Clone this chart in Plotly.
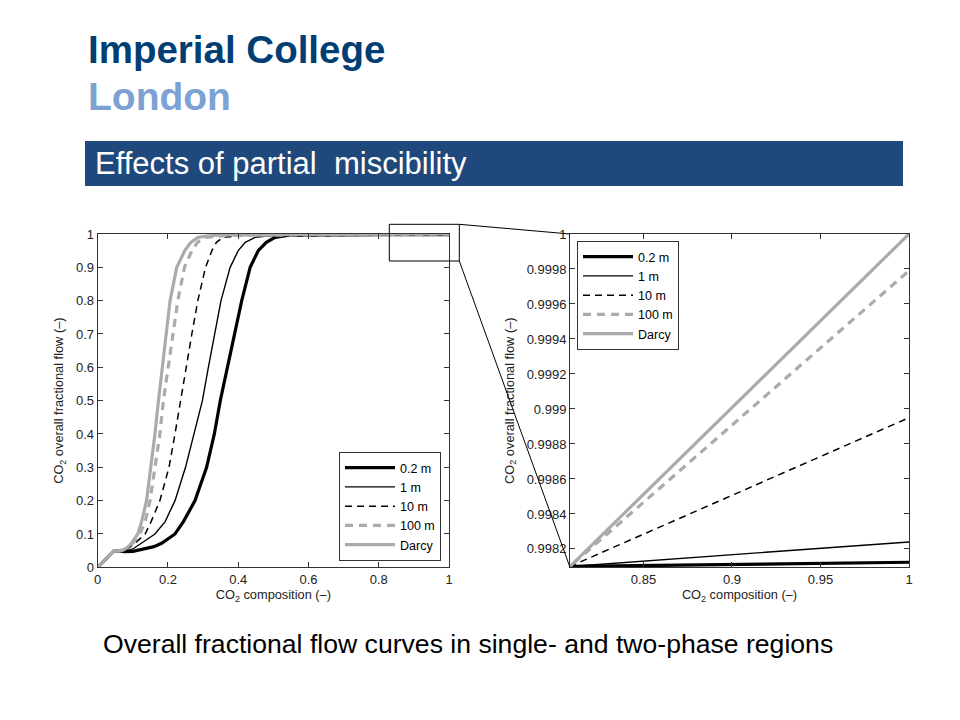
import plotly.graph_objects as go

# ---------------- data ----------------
series_names = ["0.2 m", "1 m", "10 m", "100 m", "Darcy"]

x_02 = [0, 0.02, 0.045, 0.06, 0.075, 0.1, 0.135, 0.16, 0.182, 0.2, 0.22, 0.244, 0.277, 0.31, 0.332, 0.349,
        0.37, 0.391, 0.41, 0.434, 0.457, 0.48, 0.505, 0.54, 0.7, 0.8085, 1.0]
y_02 = [0, 0.021, 0.048, 0.05, 0.047, 0.048, 0.055, 0.062, 0.072, 0.084, 0.1, 0.137, 0.2, 0.3, 0.4, 0.5,
        0.6, 0.7, 0.8, 0.9, 0.95, 0.975, 0.99, 0.996, 0.998, 0.9981, 0.998124]

x_1 = [0, 0.02, 0.045, 0.06, 0.075, 0.1, 0.125, 0.145, 0.163, 0.192, 0.22, 0.25, 0.275, 0.298, 0.315,
       0.332, 0.351, 0.377, 0.40, 0.42, 0.448, 0.505, 0.65, 0.8085, 1.0]
y_1 = [0, 0.021, 0.048, 0.05, 0.047, 0.055, 0.072, 0.086, 0.1, 0.137, 0.2, 0.3, 0.4, 0.5, 0.6,
       0.7, 0.8, 0.9, 0.95, 0.975, 0.99, 0.996, 0.9979, 0.9981, 0.99824]

x_10 = [0, 0.02, 0.045, 0.06, 0.075, 0.087, 0.106, 0.135, 0.152, 0.177, 0.203, 0.22, 0.236, 0.25, 0.268,
        0.285, 0.307, 0.325, 0.338, 0.357, 0.42, 0.6, 0.8085, 1.0]
y_10 = [0, 0.021, 0.048, 0.05, 0.048, 0.057, 0.072, 0.1, 0.137, 0.2, 0.3, 0.4, 0.5, 0.6, 0.7,
        0.8, 0.9, 0.95, 0.975, 0.99, 0.996, 0.9978, 0.9981, 0.99895]

x_100 = [0, 0.02, 0.045, 0.06, 0.072, 0.086, 0.101, 0.12, 0.135, 0.149, 0.163, 0.177, 0.187, 0.201, 0.213,
         0.228, 0.247, 0.268, 0.284, 0.305, 0.37, 0.55, 0.8085, 1.0]
y_100 = [0, 0.021, 0.048, 0.05, 0.052, 0.06, 0.073, 0.1, 0.137, 0.2, 0.3, 0.4, 0.5, 0.6, 0.7,
         0.8, 0.9, 0.95, 0.975, 0.99, 0.996, 0.9978, 0.9981, 0.99979]

x_darcy = [0, 0.02, 0.045, 0.06, 0.073, 0.085, 0.097, 0.114, 0.125, 0.139, 0.152, 0.163, 0.173, 0.184,
           0.193, 0.206, 0.225, 0.248, 0.265, 0.286, 0.31, 0.353, 0.5, 0.8085, 1.0]
y_darcy = [0, 0.021, 0.048, 0.05, 0.052, 0.06, 0.073, 0.1, 0.137, 0.2, 0.3, 0.4, 0.5, 0.6,
           0.7, 0.8, 0.9, 0.95, 0.975, 0.99, 0.994, 0.997, 0.9978, 0.9981, 1.0]

series_x = [x_02, x_1, x_10, x_100, x_darcy]
series_y = [y_02, y_1, y_10, y_100, y_darcy]

left_x_ticks = [0, 0.2, 0.4, 0.6, 0.8, 1]
left_y_ticks = [0, 0.1, 0.2, 0.3, 0.4, 0.5, 0.6, 0.7, 0.8, 0.9, 1]
right_x_ticks = [0.85, 0.9, 0.95, 1]
right_x_labels = ["0.85", "0.9", "0.95", "1"]
right_y_ticks = [0.9982, 0.9984, 0.9986, 0.9988, 0.999, 0.9992, 0.9994, 0.9996, 0.9998, 1.0]
right_y_labels = ["0.9982", "0.9984", "0.9986", "0.9988", "0.999", "0.9992", "0.9994", "0.9996", "0.9998", "1"]

# ---------------- styles ----------------
GREY = "#ababab"
styles = [
    dict(color="black", width=3.2, dash="solid"),
    dict(color="black", width=1.4, dash="solid"),
    dict(color="black", width=1.5, dash="7px,5px"),
    dict(color=GREY, width=3.2, dash="8px,6px"),
    dict(color=GREY, width=3.2, dash="solid"),
]

W, H = 960, 720
def px(xp):
    return xp / W
def py(yp):
    return 1 - yp / H

FONT = "Liberation Sans, Arial"
fig = go.Figure()
for name, xs, ys, st in zip(series_names, series_x, series_y, styles):
    fig.add_trace(go.Scatter(x=xs, y=ys, mode="lines", name=name, line=st,
                             xaxis="x", yaxis="y", legend="legend"))
for name, xs, ys, st in zip(series_names, series_x, series_y, styles):
    fig.add_trace(go.Scatter(x=xs, y=ys, mode="lines", name=name, line=st,
                             xaxis="x2", yaxis="y2", legend="legend2"))

axis_common = dict(showgrid=False, zeroline=False, showline=True, linecolor="#333333", linewidth=1,
                   mirror="ticks", ticks="inside", ticklen=5, tickcolor="#333333", automargin=False,
                   tickfont=dict(family=FONT, size=13, color="#222222"))
title_font = dict(family=FONT, size=12.8, color="#222222")
legend_common = dict(bgcolor="white", bordercolor="#333333", borderwidth=1, tracegroupgap=0, itemwidth=50,
                     font=dict(family=FONT, size=12.5, color="black"))

fig.update_layout(
    template="none",
    width=W, height=H, margin=dict(l=0, r=0, t=0, b=0, pad=0, autoexpand=False),
    paper_bgcolor="white", plot_bgcolor="white", showlegend=True,
    xaxis=dict(domain=[px(97.7), px(449)], range=[0, 1], tickvals=left_x_ticks,
               title=dict(text="CO<sub>2</sub> composition (–)", font=title_font, standoff=4),
               anchor="y", **axis_common),
    yaxis=dict(domain=[py(567.3), py(234)], range=[0, 1], tickvals=left_y_ticks,
               title=dict(text="CO<sub>2</sub> overall fractional flow (–)", font=title_font, standoff=9),
               anchor="x", **axis_common),
    xaxis2=dict(domain=[px(570), px(909)], range=[0.8085, 1], tickvals=right_x_ticks, ticktext=right_x_labels,
                title=dict(text="CO<sub>2</sub> composition (–)", font=title_font, standoff=4),
                anchor="y2", **axis_common),
    yaxis2=dict(domain=[py(567.3), py(234)], range=[0.998095, 1], tickvals=right_y_ticks, ticktext=right_y_labels,
                title=dict(text="CO<sub>2</sub> overall fractional flow (–)", font=title_font, standoff=9),
                anchor="x2", **axis_common),
    legend=dict(x=px(339), y=py(561), xanchor="left", yanchor="bottom", **legend_common),
    legend2=dict(x=px(577), y=py(241), xanchor="left", yanchor="top", **legend_common),
)

# zoom box and connector lines
box_l, box_r, box_t, box_b = 389.3, 459.3, 224.3, 261.0
fig.add_shape(type="rect", xref="paper", yref="paper", x0=px(box_l), x1=px(box_r), y0=py(box_b), y1=py(box_t),
              line=dict(color="black", width=1))
fig.add_shape(type="line", xref="paper", yref="paper", x0=px(box_r), y0=py(box_t), x1=px(570), y1=py(234),
              line=dict(color="black", width=1))
fig.add_shape(type="line", xref="paper", yref="paper", x0=px(box_r), y0=py(box_b), x1=px(570), y1=py(567.3),
              line=dict(color="black", width=1))

# header
fig.add_annotation(text="<b>Imperial College</b>", x=px(86), y=py(50), xref="paper", yref="paper",
                   xanchor="left", yanchor="middle", showarrow=False,
                   font=dict(family=FONT, size=38.5, color="#003E74"))
fig.add_annotation(text="<b>London</b>", x=px(86), y=py(97), xref="paper", yref="paper",
                   xanchor="left", yanchor="middle", showarrow=False,
                   font=dict(family=FONT, size=39, color="#7BA2D3"))
fig.add_shape(type="rect", xref="paper", yref="paper", x0=px(85), x1=px(903), y0=py(186), y1=py(141),
              line=dict(width=0), fillcolor="#1F497D", layer="below")
fig.add_annotation(text="Effects of partial  miscibility", x=px(93), y=py(164), xref="paper", yref="paper",
                   xanchor="left", yanchor="middle", showarrow=False,
                   font=dict(family=FONT, size=31, color="white"))
fig.add_annotation(text="Overall fractional flow curves in single- and two-phase regions", x=px(101), y=py(644),
                   xref="paper", yref="paper", xanchor="left", yanchor="middle", showarrow=False,
                   font=dict(family=FONT, size=26.6, color="black"))

fig.write_html("out.html", config={"displayModeBar": False},
               post_script="document.body.style.margin='0';document.body.style.padding='0';")
